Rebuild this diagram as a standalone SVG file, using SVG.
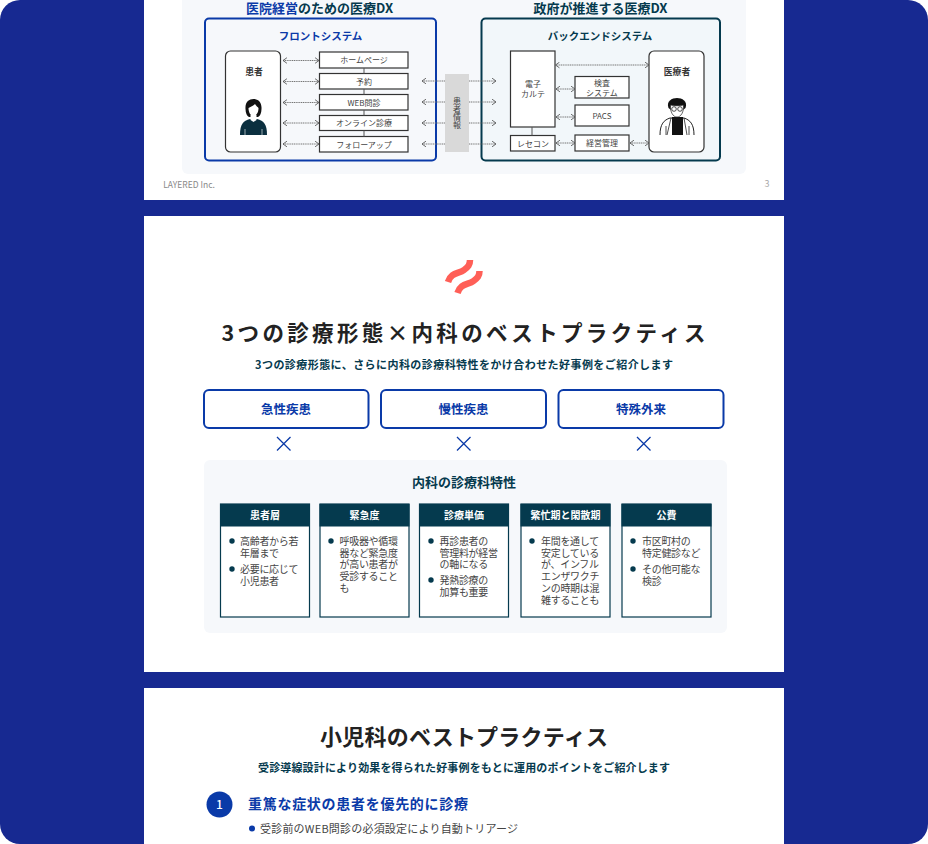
<svg xmlns="http://www.w3.org/2000/svg" width="928" height="844" viewBox="0 0 928 844">
<style>
text{font-family:"Noto Sans CJK JP","Noto Sans",sans-serif;text-anchor:middle}
.s{fill:#fff;stroke:#333;stroke-width:1.2}
.rr{fill:#fff;stroke:#333;stroke-width:1.2}
.t8{font-size:8px;fill:#444}
.b{font-weight:700}
.card{fill:#fff;stroke:#053a4e;stroke-width:1.2}
.hd{fill:#053a4e}
.ht{font-size:10px;font-weight:700;fill:#fff}
.bt{font-size:10px;fill:#444;text-anchor:start;letter-spacing:-.3px}
.dot{fill:#053a4e}
.cat{fill:#fff;stroke:#0a3aa8;stroke-width:2}
.catt{font-size:12.500px;font-weight:700;fill:#0a3aa8}
.arr{fill:none;stroke:#777;stroke-width:1;stroke-dasharray:1.2 .6;marker-start:url(#ch);marker-end:url(#ch)}
.arr1{fill:none;stroke:#777;stroke-width:1;stroke-dasharray:1.2 .6;marker-end:url(#ch)}
.x{fill:none;stroke:#0a3aa8;stroke-width:1.3}
.ink{fill:#0b2f3f}
.logo{fill:none;stroke:#ff5f57;stroke-width:6.500}
</style>
<defs>
<marker id="ch" viewBox="0 0 8 8" refX="7" refY="4" markerWidth="7" markerHeight="7" markerUnits="userSpaceOnUse" orient="auto-start-reverse"><path d="M2.500 .8 L7 4 L2.500 7.200" fill="none" stroke="#555" stroke-width="1"/></marker>
</defs>
<rect width="928" height="844" fill="#fff"/>
<rect width="928" height="844" rx="20" fill="#172991"/>
<rect x="144" y="-10" width="640" height="210" fill="#fff"/>
<rect x="144" y="216" width="640" height="456" fill="#fff"/>
<rect x="144" y="688" width="640" height="170" fill="#fff"/>

<g id="slide1-panel">
<rect x="182" y="-10" width="564" height="184" rx="6" fill="#f6f8fb"/>
<text x="319.500" y="13" font-size="13" class="b" fill="#053a4e"><tspan fill="#0a3aa8">医院経営</tspan>のための医療DX</text>
<text x="600.500" y="12.500" font-size="13" class="b" fill="#053a4e">政府が推進する医療DX</text>
<text x="189" y="188" font-size="8.500" fill="#888">LAYERED Inc.</text>
<text x="767" y="187" font-size="9" fill="#aaa">3</text>
</g>

<g id="front-system">
<rect x="205" y="18.500" width="231" height="142" rx="4" fill="#f6f8fb" stroke="#0a3aa8" stroke-width="2"/>
<text x="320.500" y="40" font-size="10.500" class="b" fill="#0a3aa8">フロントシステム</text>
</g>
<g id="back-system">
<rect x="481.500" y="18.500" width="238.500" height="142" rx="4" fill="#f2f7fa" stroke="#053a4e" stroke-width="2"/>
<text x="600" y="40" font-size="10.500" class="b" fill="#053a4e">バックエンドシステム</text>
</g>

<g id="patient">
<rect class="rr" x="225.500" y="51" width="55" height="101" rx="5"/>
<text x="254" y="75" font-size="8.800" class="b" fill="#333">患者</text>
<path class="ink" d="M240 135C240 124 243 121 250 119L257 119C264 121 267 124 267 135Z"/>
<path fill="#111" d="M245.500 109C245 102 249 99 253.500 99C258 99 262 102 261.500 109C261.500 113 260 116 258 117L249 117C247 116 245.500 113 245.500 109Z"/>
<path fill="#fff" d="M248.500 108C251 107 254 105 255 104C256 106 258 107 258.500 108C258.500 113 256 116 253.500 116C251 116 248.500 113 248.500 108Z"/>
<path fill="#fff" d="M250.500 115H256.500V120L253.500 122L250.500 120Z"/>
<path d="M245 135V129M262 135V129" stroke="#fff" stroke-width=".6"/>
</g>

<g id="n-home"><rect class="s" x="319.500" y="52" width="88.500" height="16"/><text class="t8" x="364" y="63">ホームページ</text></g>
<g id="n-yoyaku"><rect class="s" x="319.500" y="73.500" width="88.500" height="15.500"/><text class="t8" x="364" y="84.500">予約</text></g>
<g id="n-web"><rect class="s" x="319.500" y="94.500" width="88.500" height="15.500"/><text class="t8" x="364" y="105.500">WEB問診</text></g>
<g id="n-online"><rect class="s" x="319.500" y="115.500" width="88.500" height="15"/><text class="t8" x="364" y="126">オンライン診療</text></g>
<g id="n-follow"><rect class="s" x="319.500" y="136.500" width="88.500" height="15.500"/><text class="t8" x="364" y="147.500">フォローアップ</text></g>

<g id="patient-info">
<rect x="445" y="74" width="24" height="78" fill="#d9d9d9"/>
<text class="t8"><tspan x="457" y="104">患</tspan><tspan x="457" y="112">者</tspan><tspan x="457" y="120">情</tspan><tspan x="457" y="128">報</tspan></text>
</g>

<g id="n-emr"><rect class="s" x="510.500" y="51" width="44.500" height="76"/><text class="t8" x="533" y="87">電子</text><text class="t8" x="533" y="97">カルテ</text></g>
<g id="n-rececon"><rect class="s" x="510.500" y="135.500" width="44.500" height="15.500"/><text class="t8" x="533" y="146.500">レセコン</text></g>
<g id="n-kensa"><rect class="s" x="575" y="76.500" width="54" height="21.500"/><text class="t8" x="602" y="86">検査</text><text class="t8" x="602" y="95.500">システム</text></g>
<g id="n-pacs"><rect class="s" x="575" y="105" width="54" height="21"/><text class="t8" x="602" y="119">PACS</text></g>
<g id="n-keiei"><rect class="s" x="575" y="135" width="54" height="16"/><text class="t8" x="602" y="146">経営管理</text></g>

<g id="doctor">
<rect class="rr" x="649" y="51" width="55" height="101" rx="5"/>
<text x="677" y="75" font-size="8.800" class="b" fill="#333">医療者</text>
<path d="M660 135C660 124 664 120 670 118L684 118C690 120 694 124 694 135" fill="#fff" stroke="#222" stroke-width="1"/>
<path fill="#111" d="M672 117H683V135H672Z"/>
<path fill="#111" d="M668.500 108C666 101 672 98 677 98C682 98 688 101 685.500 108L683 110H671Z"/>
<path fill="#fff" stroke="#222" stroke-width=".7" d="M670.500 105C674 106 680 106 683.500 105C684 112 681 117 677 117C673 117 670 112 670.500 105Z"/>
<circle cx="674" cy="109" r="2.300" fill="none" stroke="#222" stroke-width=".8"/><circle cx="680" cy="109" r="2.300" fill="none" stroke="#222" stroke-width=".8"/>
<path d="M666 135V126M689 135V126M671 118L667 135M684 118L687 135" stroke="#222" stroke-width=".8" fill="none"/>
</g>

<g id="connectors">
<path d="M364 68V73.500M364 89V94.500M364 110V115.500M364 130.500V136.500M532 127V135.500" fill="none" stroke="#555" stroke-width="1"/>
<path class="arr" d="M283 60.500H319"/>
<path class="arr" d="M283 81.500H319"/>
<path class="arr" d="M283 102.500H319"/>
<path class="arr" d="M283 123H319"/>
<path class="arr" d="M283 144H319"/>
<path class="arr1" d="M445 81H422"/>
<path class="arr1" d="M445 102H422"/>
<path class="arr1" d="M445 123H422"/>
<path class="arr1" d="M445 144H422"/>
<path class="arr1" d="M469 81H496"/>
<path class="arr1" d="M469 102H496"/>
<path class="arr1" d="M469 123H496"/>
<path class="arr1" d="M469 144H496"/>
<path class="arr" d="M555.500 65H649"/>
<path class="arr" d="M556 89H575"/>
<path class="arr" d="M556 117H575"/>
<path class="arr" d="M556 143H575"/>
<path class="arr" d="M630 143H649"/>
</g>

<g id="logo">
<path class="logo" d="M448 282C451 272 459 274 464 270C468 267 470 265 470 260"/>
<path class="logo" d="M457.500 293C460.500 283 468.500 285 473.500 281C477.500 278 479.500 276 479.500 271"/>
</g>

<g id="slide2-head">
<text x="463.500" y="341" font-size="21.500" class="b" fill="#222" textLength="484" lengthAdjust="spacing">3つの診療形態×内科のベストプラクティス</text>
<text x="464" y="369" font-size="11" class="b" fill="#053a4e" textLength="418" lengthAdjust="spacing">3つの診療形態に、さらに内科の診療科特性をかけ合わせた好事例をご紹介します</text>
</g>

<g id="cat-1"><rect class="cat" x="204" y="390" width="164.500" height="38" rx="5"/><text class="catt" x="286" y="413.500">急性疾患</text></g>
<g id="cat-2"><rect class="cat" x="381" y="390" width="165" height="38" rx="5"/><text class="catt" x="463.500" y="413.500">慢性疾患</text></g>
<g id="cat-3"><rect class="cat" x="558.500" y="390" width="165" height="38" rx="5"/><text class="catt" x="641" y="413.500">特殊外来</text></g>
<g id="crosses">
<path class="x" d="M277 437L290.500 450.500M290.500 437L277 450.500"/>
<path class="x" d="M457 437L470.500 450.500M470.500 437L457 450.500"/>
<path class="x" d="M637 437L650.500 450.500M650.500 437L637 450.500"/>
</g>

<g id="traits">
<rect x="204" y="460" width="523" height="173" rx="6" fill="#f6f8fb"/>
<text x="464" y="487" font-size="13" class="b" fill="#053a4e">内科の診療科特性</text>
</g>

<g id="card-1">
<rect class="card" x="220.500" y="504" width="89" height="113"/><rect class="hd" x="220" y="504" width="90" height="22.500"/>
<text class="ht" x="265" y="519">患者層</text>
<circle class="dot" cx="232" cy="541" r="2.700"/><circle class="dot" cx="232" cy="569" r="2.700"/>
<text class="bt" x="240" y="544.500">高齢者から若</text><text class="bt" x="240" y="556.500">年層まで</text><text class="bt" x="240" y="572.500">必要に応じて</text><text class="bt" x="240" y="584.500">小児患者</text>
</g>
<g id="card-2">
<rect class="card" x="320" y="504" width="89" height="113"/><rect class="hd" x="319.500" y="504" width="90" height="22.500"/>
<text class="ht" x="364.500" y="519">緊急度</text>
<circle class="dot" cx="331" cy="541" r="2.700"/>
<text class="bt" x="339.500" y="544.500">呼吸器や循環</text><text class="bt" x="339.500" y="556.500">器など緊急度</text><text class="bt" x="339.500" y="568">が高い患者が</text><text class="bt" x="339.500" y="580">受診すること</text><text class="bt" x="339.500" y="591.500">も</text>
</g>
<g id="card-3">
<rect class="card" x="419.500" y="504" width="89" height="113"/><rect class="hd" x="419" y="504" width="90" height="22.500"/>
<text class="ht" x="464" y="519">診療単価</text>
<circle class="dot" cx="431" cy="541" r="2.700"/><circle class="dot" cx="431" cy="580" r="2.700"/>
<text class="bt" x="439.500" y="544.500">再診患者の</text><text class="bt" x="439.500" y="556.500">管理料が経営</text><text class="bt" x="439.500" y="568">の軸になる</text><text class="bt" x="439.500" y="583.500">発熱診療の</text><text class="bt" x="439.500" y="595.500">加算も重要</text>
</g>
<g id="card-4">
<rect class="card" x="521" y="504" width="89" height="113"/><rect class="hd" x="520.500" y="504" width="90" height="22.500"/>
<text class="ht" x="565.500" y="519">繁忙期と閑散期</text>
<circle class="dot" cx="532" cy="541" r="2.700"/>
<text class="bt" x="541" y="544.500">年間を通して</text><text class="bt" x="541" y="556.500">安定している</text><text class="bt" x="541" y="568">が、インフル</text><text class="bt" x="541" y="580">エンザワクチ</text><text class="bt" x="541" y="591.500">ンの時期は混</text><text class="bt" x="541" y="603.500">雑することも</text>
</g>
<g id="card-5">
<rect class="card" x="622" y="504" width="89" height="113"/><rect class="hd" x="621.500" y="504" width="90" height="22.500"/>
<text class="ht" x="666.500" y="519">公費</text>
<circle class="dot" cx="633" cy="541" r="2.700"/><circle class="dot" cx="633" cy="569" r="2.700"/>
<text class="bt" x="642" y="544.500">市区町村の</text><text class="bt" x="642" y="556.500">特定健診など</text><text class="bt" x="642" y="572.500">その他可能な</text><text class="bt" x="642" y="584.500">検診</text>
</g>

<g id="slide3">
<text x="464" y="745" font-size="22" class="b" fill="#222" textLength="288" lengthAdjust="spacing">小児科のベストプラクティス</text>
<text x="464" y="772" font-size="11" class="b" fill="#053a4e" textLength="412" lengthAdjust="spacing">受診導線設計により効果を得られた好事例をもとに運用のポイントをご紹介します</text>
<circle cx="219.500" cy="804.500" r="13" fill="#0a3aa8"/>
<text x="219.500" y="809" font-size="12" font-weight="500" fill="#fff">1</text>
<text x="358" y="809" font-size="14" class="b" fill="#0a3aa8" textLength="220" lengthAdjust="spacing">重篤な症状の患者を優先的に診療</text>
<circle cx="252" cy="828.500" r="3" fill="#0a3aa8"/>
<text x="389" y="833" font-size="11" fill="#444" textLength="258" lengthAdjust="spacing">受診前のWEB問診の必須設定により自動トリアージ</text>
</g>
</svg>
